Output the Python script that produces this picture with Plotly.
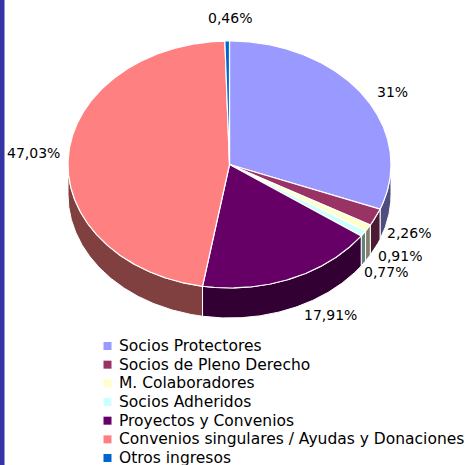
import numpy as np
import plotly.graph_objects as go

# ---------------- data ----------------
categories = [
    "Socios Protectores",
    "Socios de Pleno Derecho",
    "M. Colaboradores",
    "Socios Adheridos",
    "Proyectos y Convenios",
    "Convenios singulares / Ayudas y Donaciones",
    "Otros ingresos",
]
values = [31.00, 2.26, 0.91, 0.77, 17.91, 47.03, 0.46]

# ---------------- styles ----------------
top_colors = ["#9999ff", "#993366", "#ffffcc", "#ccffff", "#660066", "#ff8080", "#0066cc"]
side_colors = ["#4d4d80", "#4d1a33", "#80806a", "#668080", "#330033", "#804040", "#003366"]
# pixel nudges for the data labels (layout only)
label_nudge = [(4, 1), (1, 0), (0, 9), (-9, 18), (7, 2), (3, -2), (3, -16)]
label_anchor = ["left", "left", "left", "left", "left", "right", "center"]

W, H = 467, 465
cx, cy, rx, ry, depth = 229.5, 164.5, 161.5, 123.5, 30
FONT = "DejaVu Sans"

total = sum(values)
edges = np.concatenate([[0.0], np.cumsum(values)]) / total * 360.0


def pt(theta_deg, dz=0.0, k=1.0):
    t = np.radians(theta_deg)
    return cx + k * rx * np.sin(t), cy - k * ry * np.cos(t) + dz


def fmt(v):
    s = f"{v:.2f}".rstrip("0").rstrip(".")
    return s.replace(".", ",") + "%"


fig = go.Figure()

# side walls (front half only)
for i, v in enumerate(values):
    a, b = edges[i], edges[i + 1]
    lo, hi = max(a, 90.0), min(b, 270.0)
    if hi <= lo:
        continue
    th = np.linspace(lo, hi, max(4, int((hi - lo) * 2)))
    xt, yt = pt(th)
    xb, yb = pt(th[::-1], depth)
    xs = np.concatenate([xt, xb, xt[:1]])
    ys = np.concatenate([yt, yb, yt[:1]])
    fig.add_trace(go.Scatter(x=xs, y=ys, mode="lines", fill="toself",
                             fillcolor=side_colors[i], line=dict(color="white", width=1),
                             hoverinfo="skip", showlegend=False))

# top faces
for i, v in enumerate(values):
    a, b = edges[i], edges[i + 1]
    th = np.linspace(a, b, max(4, int((b - a) * 2)))
    xt, yt = pt(th)
    xs = np.concatenate([[cx], xt, [cx]])
    ys = np.concatenate([[cy], yt, [cy]])
    fig.add_trace(go.Scatter(x=xs, y=ys, mode="lines", fill="toself",
                             fillcolor=top_colors[i], line=dict(color="white", width=1.2),
                             name=categories[i], hoverinfo="text", text=fmt(v),
                             showlegend=False))

annotations = []
# data labels
for i, v in enumerate(values):
    mid = (edges[i] + edges[i + 1]) / 2
    t = np.radians(mid)
    front = max(0.0, -np.cos(t))
    lx, ly = pt(mid, depth * front, k=1.06)
    dx, dy = label_nudge[i]
    annotations.append(dict(x=lx + dx, y=ly + dy, xref="x", yref="y", text=fmt(v),
                            showarrow=False, xanchor=label_anchor[i], yanchor="middle",
                            font=dict(family=FONT, size=14, color="black")))

# manual legend
leg_x, leg_y0, leg_dy = 107.5, 346, 18.67
for i, c in enumerate(categories):
    fig.add_trace(go.Scatter(x=[leg_x], y=[leg_y0 + i * leg_dy], mode="markers",
                             marker=dict(symbol="square", size=8, color=top_colors[i],
                                         line=dict(width=0)),
                             hoverinfo="skip", showlegend=False))
    annotations.append(dict(x=leg_x + 9.5, y=leg_y0 + i * leg_dy, xref="x", yref="y",
                            text=c, showarrow=False, xanchor="left", yanchor="middle",
                            font=dict(family=FONT, size=15.5, color="black")))

fig.update_layout(
    width=W, height=H,
    margin=dict(l=0, r=0, t=0, b=0),
    paper_bgcolor="white", plot_bgcolor="white",
    xaxis=dict(range=[0, W], visible=False, fixedrange=True),
    yaxis=dict(range=[H, 0], visible=False, fixedrange=True),
    annotations=annotations,
    showlegend=False,
    shapes=[dict(type="rect", xref="x", yref="y", x0=0, x1=4.5, y0=0, y1=H,
                 fillcolor="#3434a6", line=dict(width=0), layer="above")],
)

fig.write_html("out.html")
